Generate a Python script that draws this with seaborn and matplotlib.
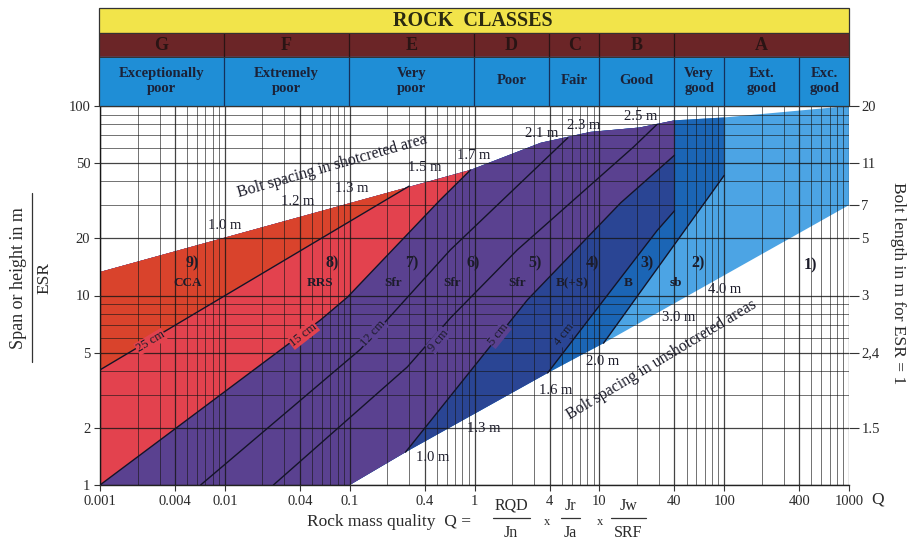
import numpy as np
import pandas as pd
import seaborn as sns
import matplotlib.pyplot as plt
from matplotlib.patches import Polygon
from matplotlib.lines import Line2D
from matplotlib.ticker import LogLocator, NullFormatter

# outer limits of the supported area (Q, span/ESR)
upper_q = [0.001, 0.93, 3.4, 8.5, 21, 40, 100, 1000]
upper_s = [13.3, 46, 64, 73, 77, 84, 87, 100]
lower_q = [0.1, 0.28, 3.85, 10.8, 1000]
lower_s = [1.0, 1.49, 3.9, 5.6, 30]

# dividing lines between support categories
l25_q = [0.001, 0.30]
l25_s = [4.05, 37.8]
l15_q = [0.001, 0.058, 0.096, 0.53, 0.93]
l15_s = [1.0, 7.4, 9.8, 31.9, 46]
l12_q = [0.0064, 0.122, 0.224, 0.64, 5.6]
l12_s = [1.0, 5.2, 8.1, 17.4, 68]
l9_q = [0.0245, 0.29, 0.64, 2.2, 18.8, 29]
l9_s = [1.0, 4.2, 7.6, 17.4, 60.8, 80]
l5_q = [0.28, 2.66, 14.8, 40]
l5_s = [1.49, 9.5, 30.8, 55]
l4_q = [3.85, 29, 40]
l4_s = [3.9, 22, 28]
l3_q = [10.8, 100]
l3_s = [5.6, 43]

# header classes
class_letters = ['G', 'F', 'E', 'D', 'C', 'B', 'A']
class_edges = [0.001, 0.01, 0.1, 1, 4, 10, 40, 1000]
quality_names = ['Exceptionally\npoor', 'Extremely\npoor', 'Very\npoor', 'Poor',
                 'Fair', 'Good', 'Very\ngood', 'Ext.\ngood', 'Exc.\ngood']
quality_edges = [0.001, 0.01, 0.1, 1, 4, 10, 40, 100, 400, 1000]

# labels
reg_num = ['9)', '8)', '7)', '6)', '5)', '4)', '3)', '2)', '1)']
reg_num_q = [0.0055, 0.073, 0.313, 0.98, 3.03, 8.8, 24.3, 62, 492]
reg_num_s = [14.8, 14.8, 14.8, 14.8, 14.8, 14.8, 14.8, 14.8, 14.5]
reg_abbr = ['CCA', 'RRS', 'Sfr', 'Sfr', 'Sfr', 'B(+S)', 'B', 'sb']
reg_abbr_q = [0.005, 0.058, 0.224, 0.667, 2.21, 6.0, 17.1, 40.8]

top_lab = ['1.0 m', '1.2 m', '1.3 m', '1.5 m', '1.7 m', '2.1 m', '2.3 m', '2.5 m']
top_q = [0.01, 0.038, 0.103, 0.40, 0.98, 3.44, 7.5, 21.4]
top_s = [23.5, 31.5, 36.5, 47.6, 55, 72, 79, 87.5]
bot_lab = ['1.0 m', '1.3 m', '1.6 m', '2.0 m', '3.0 m', '4.0 m']
bot_q = [0.46, 1.18, 4.5, 10.6, 43, 100]
bot_s = [1.39, 1.98, 3.17, 4.46, 7.7, 10.7]
cm_lab = ['25 cm', '15 cm', '12 cm', '9 cm', '5 cm', '4 cm']
cm_q = [0.00254, 0.0426, 0.155, 0.515, 1.56, 5.2]
cm_s = [5.7, 6.2, 6.3, 5.8, 6.2, 6.2]
cm_rot = [31, 38, 48, 50, 51, 52]

x_ticks = [0.001, 0.004, 0.01, 0.04, 0.1, 0.4, 1, 4, 10, 40, 100, 400, 1000]
y_ticks = [1, 2, 5, 10, 20, 50, 100]
bolt_ticks = [2, 5, 10, 20, 30, 50, 100]
bolt_labels = ['1.5', '2,4', '3', '5', '7', '11', '20']

C_LIGHT, C_MED, C_NAVY, C_PURPLE, C_RED, C_ORANGE = (
    '#4ca4e4', '#1b65b5', '#2a4594', '#5a4190', '#e3424e', '#d9432c')

sns.set_theme(style='white')
plt.rcParams['font.family'] = ['Liberation Serif', 'DejaVu Serif']

W, H = 914, 546
fig = plt.figure(figsize=(W / 100, H / 100), dpi=100)
ax = fig.add_axes([100 / W, 61 / H, 749 / W, 379 / H])
ax.set_xscale('log')
ax.set_yscale('log')
ax.set_xlim(0.001, 1000)
ax.set_ylim(1, 100)
ax.set_facecolor('white')

Q_LO, S_LO, S_HI = 1e-4, 0.1, 1000


def left_of(qs, ss):
    return [(qs[0], S_LO)] + list(zip(qs, ss)) + [(qs[-1], S_HI), (Q_LO, S_HI), (Q_LO, S_LO)]


env_pts = list(zip(upper_q, upper_s)) + list(zip(lower_q, lower_s))[::-1] + [(0.001, 1.0)]
env = Polygon(env_pts, closed=True, facecolor=C_LIGHT, edgecolor='none', zorder=1)
ax.add_patch(env)

fills = [
    (left_of(l3_q, l3_s), C_MED),
    (left_of(l4_q, l4_s), C_NAVY),
    (left_of(l5_q, l5_s), C_PURPLE),
    (left_of(l15_q, l15_s), C_RED),
    (left_of(l25_q, l25_s), C_ORANGE),
]
for pts, col in fills:
    p = Polygon(pts, closed=True, facecolor=col, edgecolor='none', zorder=1)
    ax.add_patch(p)
    p.set_clip_path(env)

# grid
ax.xaxis.set_minor_locator(LogLocator(base=10, subs=np.arange(2, 10), numticks=100))
ax.yaxis.set_minor_locator(LogLocator(base=10, subs=np.arange(2, 10), numticks=100))
ax.xaxis.set_minor_formatter(NullFormatter())
ax.yaxis.set_minor_formatter(NullFormatter())
ax.set_axisbelow(False)
ax.grid(True, which='major', color='#151515', linewidth=0.9, alpha=0.8)
ax.grid(True, which='minor', color='#151515', linewidth=0.6, alpha=0.7)

# shotcrete thickness / category lines
lines = {'25': (l25_q, l25_s), '15': (l15_q, l15_s), '12': (l12_q, l12_s),
         '9': (l9_q, l9_s), '5': (l5_q, l5_s), '4': (l4_q, l4_s), 'sb': (l3_q, l3_s)}
df = pd.concat([pd.DataFrame({'q': q, 's': s, 'line': k}) for k, (q, s) in lines.items()])
sns.lineplot(data=df, x='q', y='s', units='line', estimator=None, sort=False,
             color='#141428', linewidth=1.0, legend=False, ax=ax, zorder=3)
ax.set_xlabel('')
ax.set_ylabel('')

ax.set_xticks(x_ticks)
ax.set_xticklabels([f'{v:g}' for v in x_ticks])
ax.set_yticks(y_ticks)
ax.set_yticklabels([str(v) for v in y_ticks])
ax.tick_params(which='major', direction='out', length=4, width=0.8, color='#333',
               labelsize=10.5, labelcolor='#2a2a2a', pad=3, bottom=True, left=True)
ax.tick_params(which='minor', length=0)
for side in ['top', 'right']:
    ax.spines[side].set_visible(False)
for side in ['left', 'bottom']:
    ax.spines[side].set_color('#222')
    ax.spines[side].set_linewidth(1.0)

ax2 = ax.twinx()
ax2.set_yscale('log')
ax2.set_ylim(1, 100)
ax2.set_yticks(bolt_ticks)
ax2.set_yticklabels(bolt_labels)
ax2.yaxis.set_minor_locator(plt.NullLocator())
ax2.tick_params(direction='out', length=7, width=0.8, color='#333',
                labelsize=10.5, labelcolor='#2a2a2a', pad=2)
for side in ax2.spines:
    ax2.spines[side].set_visible(False)

txt = dict(color='#1c1c2a', ha='center', va='center', zorder=5)
for lab, q, s in zip(reg_num, reg_num_q, reg_num_s):
    ax.text(q, s, lab, fontsize=11.5, fontweight='bold', **txt)
for lab, q in zip(reg_abbr, reg_abbr_q):
    ax.text(q, 11.6, lab, fontsize=9.5, fontweight='bold', **txt)
for lab, q, s in zip(top_lab, top_q, top_s):
    ax.text(q, s, lab, fontsize=10.5, **txt)
for lab, q, s in zip(bot_lab, bot_q, bot_s):
    ax.text(q, s, lab, fontsize=10.5, **txt)
cm_bg = [C_RED, C_RED, C_PURPLE, C_PURPLE, C_PURPLE, C_NAVY]
for lab, q, s, r, bg in zip(cm_lab, cm_q, cm_s, cm_rot, cm_bg):
    ax.text(q, s, lab, fontsize=9, rotation=r,
            bbox=dict(boxstyle='square,pad=0.05', fc=bg, ec='none'), **txt)
ax.text(0.073, 48, 'Bolt spacing in shotcreted area', fontsize=11.5, rotation=16, **txt)
ax.text(31.5, 4.57, 'Bolt spacing in unshotcreted areas', fontsize=11.5, rotation=31, **txt)

# header bands
hdr = fig.add_axes([99 / W, (H - 106) / H, 750 / W, 98 / H])
hdr.set_xscale('log')
hdr.set_xlim(0.001, 1000)
hdr.set_ylim(0, 1)
hdr.axis('off')
hdr.axhspan(0.745, 1, color='#f2e44a')
hdr.axhspan(0.5, 0.745, color='#6b2527')
hdr.axhspan(0, 0.5, color='#1f8ed6')
hdr.text(0.98, 0.87, 'ROCK  CLASSES', fontsize=14.5, fontweight='bold',
         color='#2a2a10', ha='center', va='center')
for lo, hi, lab in zip(class_edges[:-1], class_edges[1:], class_letters):
    hdr.text(np.sqrt(lo * hi), 0.62, lab, fontsize=13, fontweight='bold',
             color='#2a1414', ha='center', va='center')
for lo, hi, lab in zip(quality_edges[:-1], quality_edges[1:], quality_names):
    hdr.text(np.sqrt(lo * hi), 0.26, lab, fontsize=10.5, fontweight='bold', color='#1b2238',
             ha='center', va='center', linespacing=1.2)
hdr.vlines(class_edges[1:-1], 0.5, 0.745, color='#2a1414', linewidth=0.9)
hdr.vlines(quality_edges[1:-1], 0, 0.5, color='#15305a', linewidth=0.9)
for y in [0.5, 0.745]:
    hdr.axhline(y, color='#333', linewidth=0.7)
hdr.add_patch(plt.Rectangle((0, 0), 1, 1, transform=hdr.transAxes, fill=False,
                            edgecolor='#333', linewidth=0.9, clip_on=False))


def ftext(x, y, s, **kw):
    fig.text(x / W, 1 - y / H, s, **kw)


def fline(x0, x1, y0, y1):
    fig.add_artist(Line2D([x0 / W, x1 / W], [1 - y0 / H, 1 - y1 / H],
                          transform=fig.transFigure, color='#333', linewidth=0.9))


lbl = dict(color='#2a2a2a', ha='center', va='center')
ftext(19, 278, 'Span or height in m', rotation=90, fontsize=13, **lbl)
fline(32, 32, 193, 362)
ftext(44, 278, 'ESR', rotation=90, fontsize=12.5, **lbl)
ftext(898, 283, 'Bolt length in m for ESR = 1', rotation=-90, fontsize=12.5, **lbl)
ftext(878, 499, 'Q', fontsize=12.5, **lbl)

ftext(471, 522, 'Rock mass quality  Q =', fontsize=12.5, color='#2a2a2a', ha='right', va='center')
ftext(511, 506, 'RQD', fontsize=11.5, **lbl)
fline(493, 530, 518, 518)
ftext(511, 533, 'Jn', fontsize=11.5, **lbl)
ftext(547, 522, 'x', fontsize=9, **lbl)
ftext(570, 506, 'Jr', fontsize=11.5, **lbl)
fline(561, 580, 518, 518)
ftext(570, 533, 'Ja', fontsize=11.5, **lbl)
ftext(600, 522, 'x', fontsize=9, **lbl)
ftext(628, 506, 'Jw', fontsize=11.5, **lbl)
fline(611, 646, 518, 518)
ftext(628, 533, 'SRF', fontsize=11.5, **lbl)

fig.savefig('out.png', dpi=100)
